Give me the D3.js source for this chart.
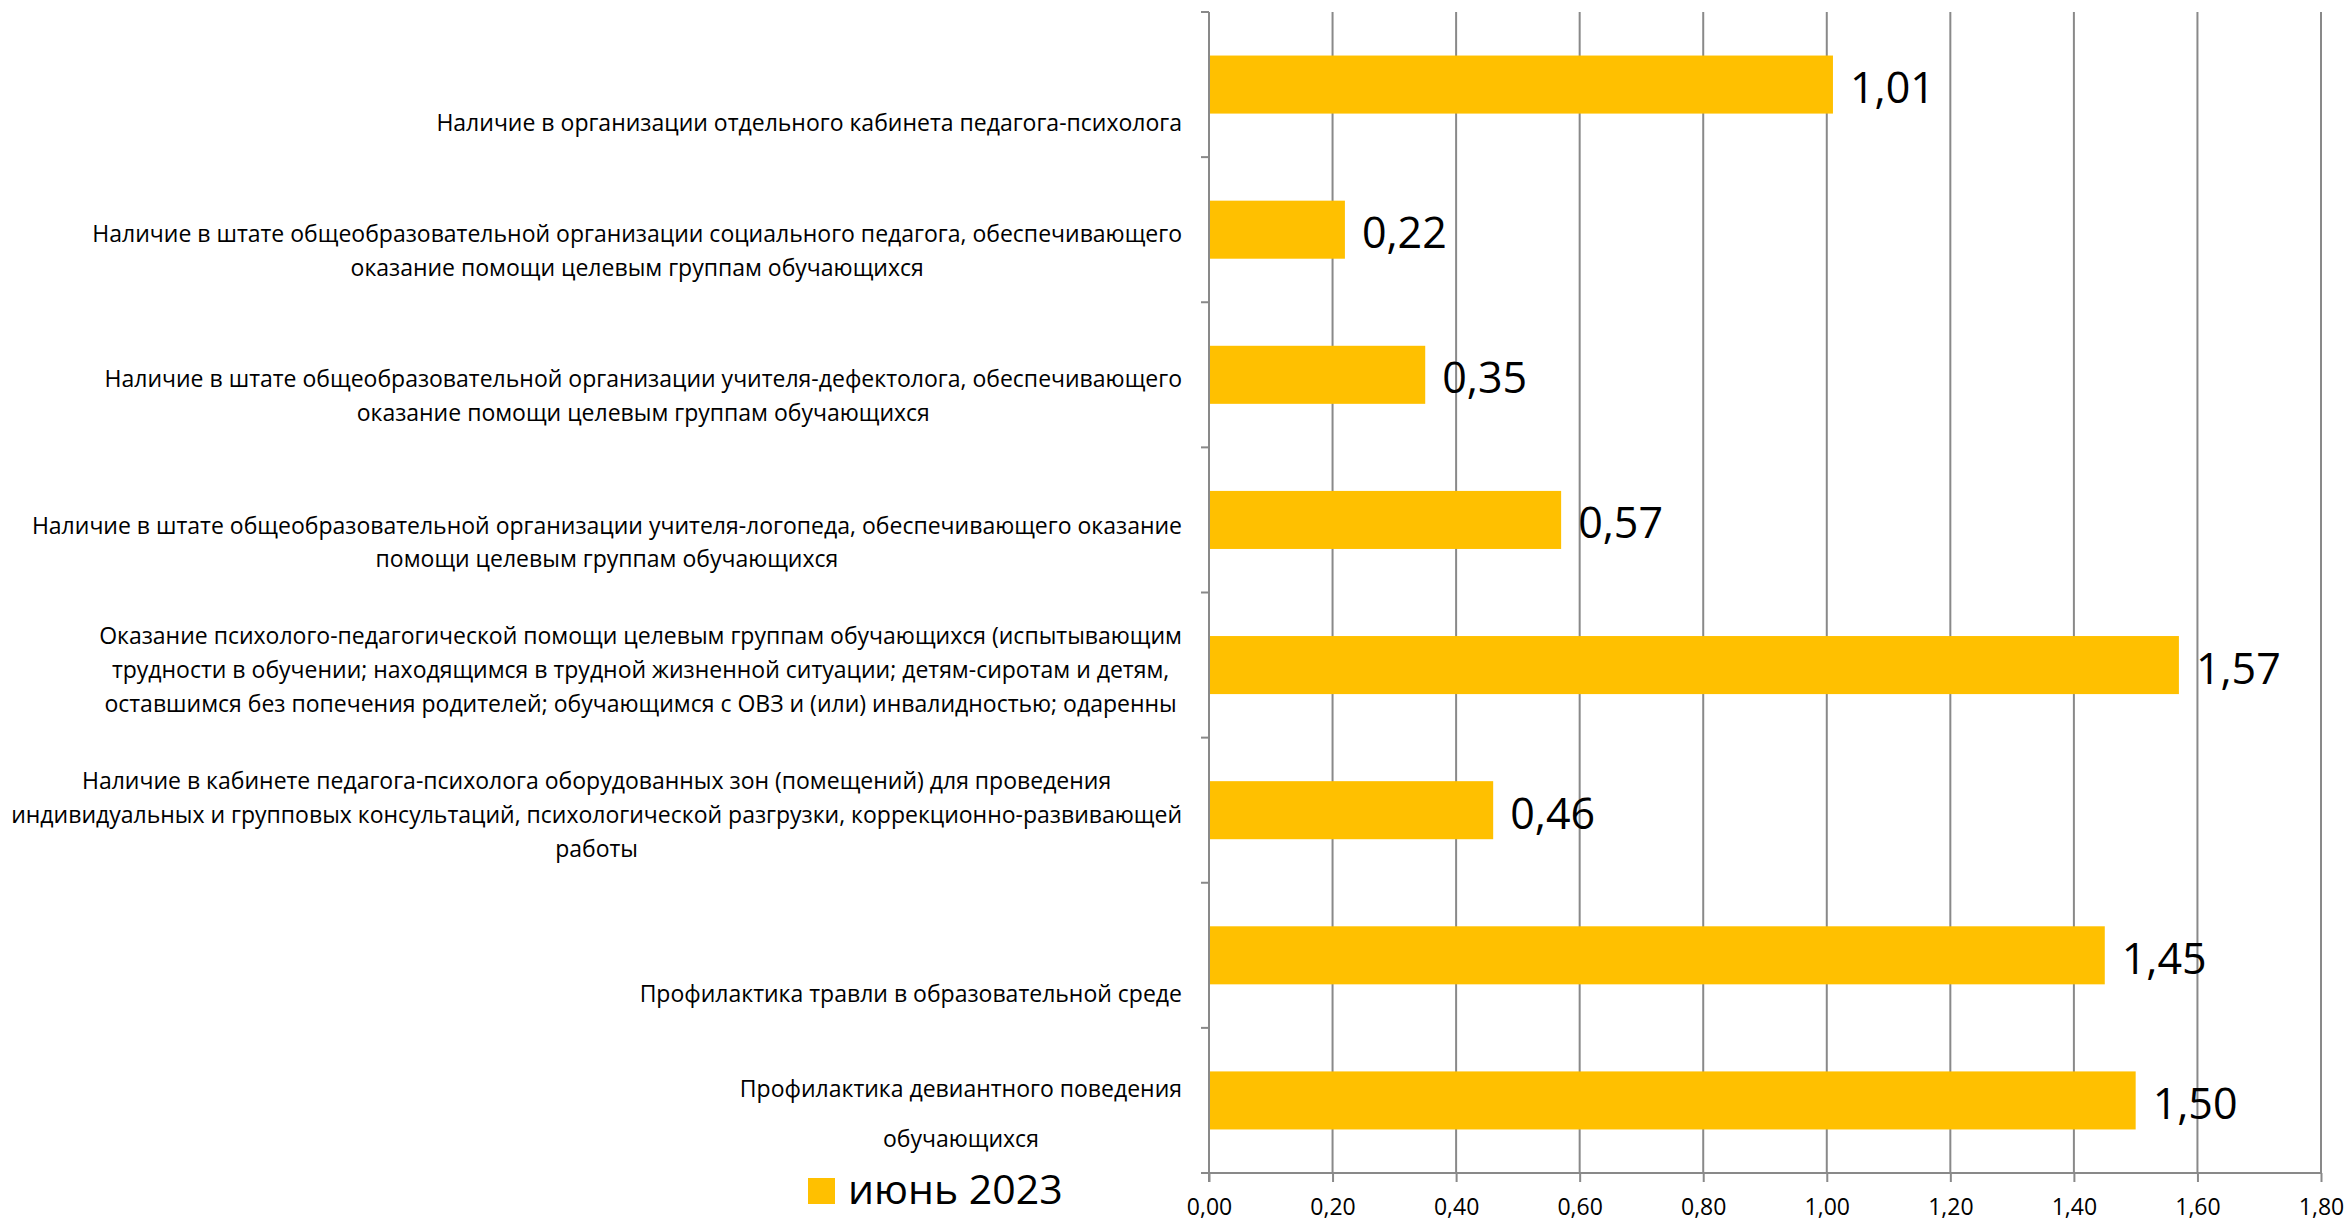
<!DOCTYPE html>
<html lang="ru">
<head>
    <meta charset="UTF-8">
    <title>июнь 2023</title>
    <script src="https://d3js.org/d3.v7.min.js"></script>
    <style>
        body {
            margin: 0;
            background: #fff;
        }
        text {
            font-family: "Open Sans", sans-serif;
            fill: #000;
        }
        .grid line {
            stroke: #898989;
            stroke-width: 2;
        }
        .axis path, .axis line {
            stroke: #898989;
            stroke-width: 2;
            fill: none;
        }
        .bar {
            fill: #ffc000;
        }
        .cat {
            font-size: 23px;
            text-anchor: middle;
        }
        .value {
            font-size: 43px;
        }
        .legend {
            font-size: 41px;
        }
    </style>
</head>
<body>
<script>
    const width = 2349;
    const height = 1222;

    // categories, top to bottom, already split into lines as in the picture
    const categories = [
        ["Наличие в организации отдельного кабинета педагога-психолога"],
        ["Наличие в штате общеобразовательной организации социального педагога, обеспечивающего",
         "оказание помощи целевым группам обучающихся"],
        ["Наличие в штате общеобразовательной организации учителя-дефектолога, обеспечивающего",
         "оказание помощи целевым группам обучающихся"],
        ["Наличие в штате общеобразовательной организации учителя-логопеда, обеспечивающего оказание",
         "помощи целевым группам обучающихся"],
        ["Оказание психолого-педагогической помощи целевым группам обучающихся (испытывающим",
         "трудности в обучении; находящимся в трудной жизненной ситуации; детям-сиротам и детям,",
         "оставшимся без попечения родителей; обучающимся с ОВЗ и (или) инвалидностью; одаренны"],
        ["Наличие в кабинете педагога-психолога оборудованных зон (помещений) для проведения",
         "индивидуальных и групповых консультаций, психологической разгрузки, коррекционно-развивающей",
         "работы"],
        ["Профилактика травли в образовательной среде"],
        ["Профилактика девиантного поведения",
         "обучающихся"]
    ];
    const values = [1.01, 0.22, 0.35, 0.57, 1.57, 0.46, 1.45, 1.50];
    const seriesName = "июнь 2023";
    const xTicks = [0, 0.2, 0.4, 0.6, 0.8, 1.0, 1.2, 1.4, 1.6, 1.8];

    // line spacing of the wrapped labels (the last label is spaced wider)
    const lineGaps = [34, 34, 34, 33, 34, 34, 34, 50];

    const comma = v => d3.format(".2f")(v).replace(".", ",");

    const plot = {left: 1209, right: 2321, top: 12, bottom: 1173};

    const x = d3.scaleLinear().domain([0, 1.8]).range([plot.left, plot.right]);
    const y = d3.scaleBand()
        .domain(d3.range(categories.length))
        .range([plot.top, plot.bottom])
        .paddingInner(0.6)
        .paddingOuter(0.3);
    // boundaries between categories for the tick marks
    const step = (plot.bottom - plot.top) / categories.length;

    const svg = d3.select("body").append("svg")
        .attr("width", width)
        .attr("height", height);

    // vertical grid
    svg.append("g").attr("class", "grid")
        .selectAll("line")
        .data(xTicks.slice(1))
        .join("line")
        .attr("x1", d => x(d)).attr("x2", d => x(d))
        .attr("y1", plot.top).attr("y2", plot.bottom);

    // bars
    svg.append("g")
        .selectAll("rect")
        .data(values)
        .join("rect")
        .attr("class", "bar")
        .attr("x", x(0))
        .attr("y", (d, i) => y(i))
        .attr("width", d => x(d) - x(0))
        .attr("height", y.bandwidth());

    // value labels
    svg.append("g")
        .selectAll("text")
        .data(values)
        .join("text")
        .attr("class", "value")
        .attr("x", d => x(d) + 17)
        .attr("y", (d, i) => y(i) + y.bandwidth() / 2 + 2)
        .attr("dominant-baseline", "central")
        .text(d => comma(d));

    // x axis
    const xAxis = svg.append("g").attr("class", "axis")
        .attr("transform", `translate(0,${plot.bottom})`)
        .call(d3.axisBottom(x).tickValues(xTicks).tickSize(9).tickSizeOuter(0).tickFormat(comma));
    xAxis.select(".domain").attr("d", `M${plot.left - 8},0H${plot.right}`);
    xAxis.selectAll(".tick text")
        .attr("y", 34)
        .attr("dy", "0.35em")
        .attr("fill", "#000")
        .style("font-size", "23px")
        .style("font-family", "'Open Sans', sans-serif");

    // y axis with category boundary ticks
    const yAxis = svg.append("g").attr("class", "axis");
    yAxis.append("line")
        .attr("x1", plot.left).attr("x2", plot.left)
        .attr("y1", plot.top).attr("y2", plot.bottom + 9);
    yAxis.selectAll("line.tk")
        .data(d3.range(categories.length))
        .join("line")
        .attr("class", "tk")
        .attr("x1", plot.left - 8).attr("x2", plot.left)
        .attr("y1", i => plot.top + i * step)
        .attr("y2", i => plot.top + i * step);

    // category labels: centred block, right edge at the axis, bottom aligned in band
    const labelRight = 1182;
    const labels = svg.append("g");
    categories.forEach((lines, i) => {
        const g = labels.append("g");
        const bandBottom = plot.top + (i + 1) * step;
        const gap = lineGaps[i];
        const texts = g.selectAll("text")
            .data(lines)
            .join("text")
            .attr("class", "cat")
            .attr("y", (d, j) => bandBottom - 26 - (lines.length - 1 - j) * gap)
            .text(d => d);
        let w = 0;
        texts.each(function() { w = Math.max(w, this.getComputedTextLength()); });
        texts.attr("x", labelRight - w / 2);
    });

    // legend
    const legend = svg.append("g").attr("transform", "translate(808,1178)");
    legend.append("rect")
        .attr("class", "bar")
        .attr("width", 27).attr("height", 26);
    legend.append("text")
        .attr("class", "legend")
        .attr("x", 40)
        .attr("y", 26)
        .text(seriesName);
</script>
</body>
</html>
